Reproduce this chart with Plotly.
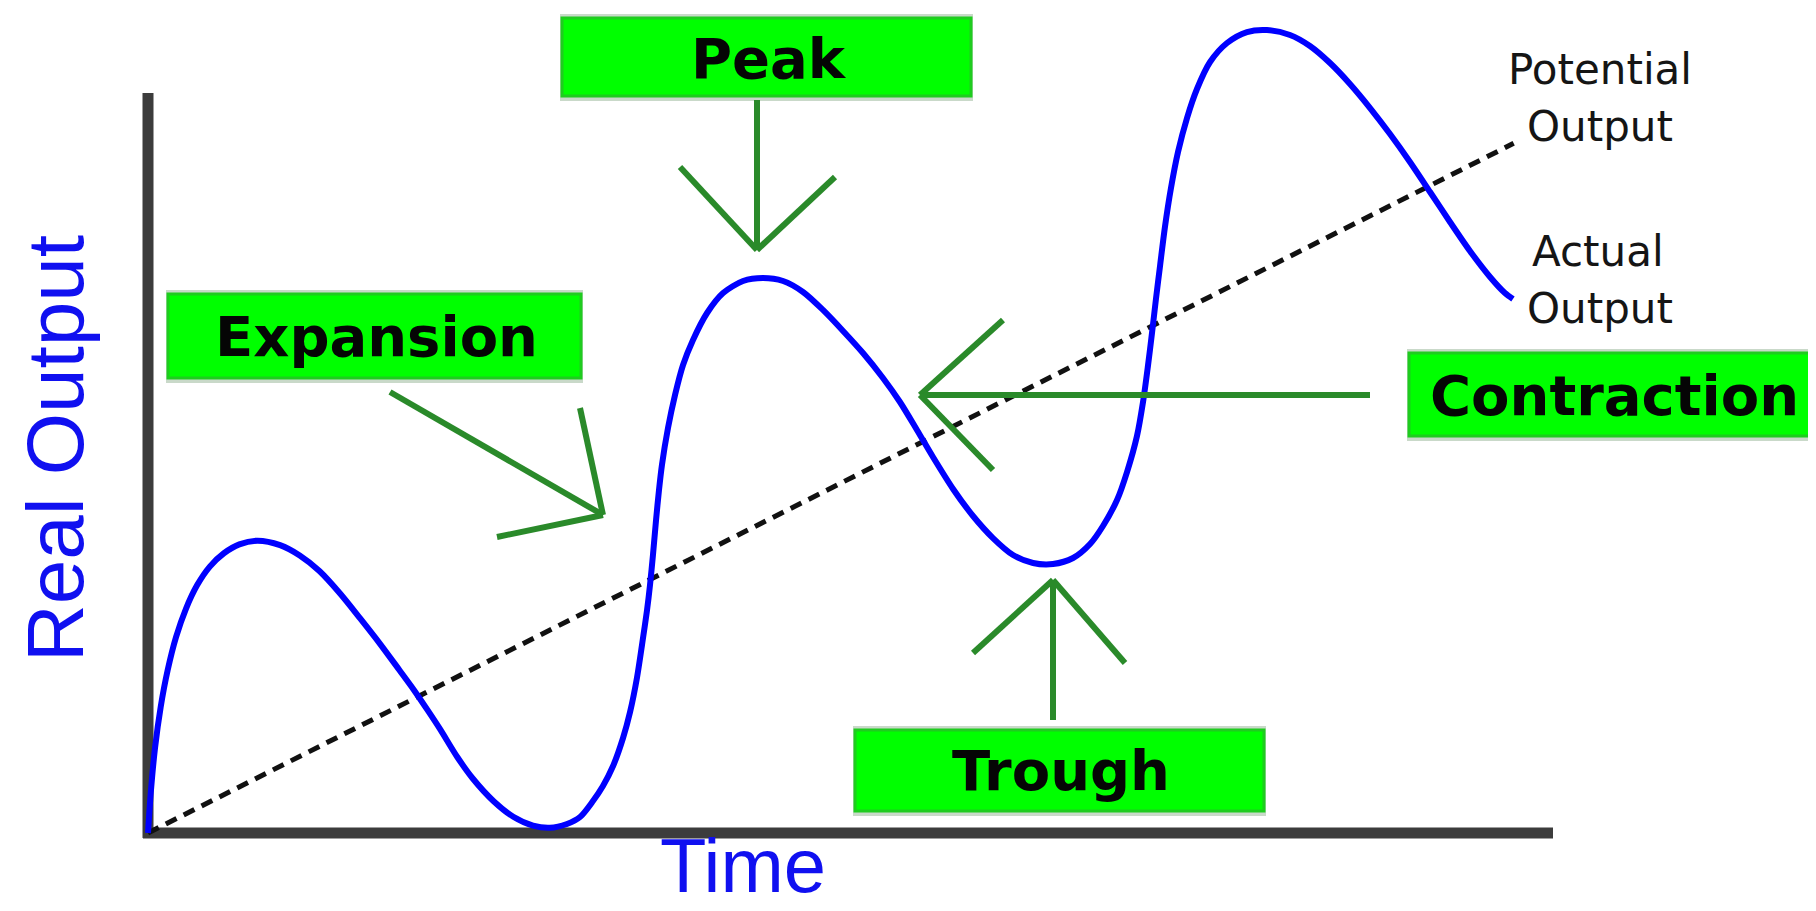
import plotly.graph_objects as go

W, H = 1816, 911

# ---------------- data ----------------
# time runs 0..100 along the drawn x axis, output 0..100 along the drawn y axis
time = [0.0, 0.2, 0.5, 0.9, 1.4, 2.0, 2.7, 3.5, 4.4, 5.4, 6.5, 7.8,
        9.4, 10.8, 12.2, 13.7, 15.1, 16.5, 17.9, 18.9, 19.9, 20.8, 22.0, 23.1, 24.6, 26.0,
        27.4, 28.6,
        29.82, 30.75, 31.67, 32.38, 33.10, 33.81, 34.31, 34.80, 35.16, 35.52, 35.73, 35.94,
        36.16, 36.37, 36.58, 37.01, 37.51, 38.08, 38.79, 39.79, 40.93, 42.35, 43.77,
        45.20, 46.62, 48.04, 49.47, 50.89, 52.31, 53.52, 54.73, 55.87, 57.30, 58.72, 60.14,
        61.57, 62.99, 64.41, 65.84, 67.05, 67.97, 68.97, 69.68, 70.39, 70.82, 71.17, 71.46,
        71.74, 72.03, 72.38, 72.81, 73.31, 73.95, 74.66, 75.59, 76.80, 78.22, 79.64,
        81.28, 82.70, 84.13, 85.55, 86.98, 88.40, 89.82, 91.25, 92.67, 94.09, 95.52, 96.58,
        97.15]
actual = [0.0, 5.5, 11.5, 17.0, 22.0, 26.5, 30.3, 33.5, 36.0, 37.8, 39.0, 39.5,
          38.9, 37.5, 35.4, 32.3, 29.0, 25.6, 22.0, 19.4, 16.6, 14.0, 10.3, 7.4, 4.3, 2.2,
          1.0, 0.7,
          1.22, 2.16, 4.32, 6.35, 9.05, 12.84, 16.35, 20.95, 25.41, 30.14, 33.51, 37.57,
          42.30, 46.35, 49.73, 54.73, 59.19, 63.24, 66.62, 70.27, 72.97, 74.59, 75.00,
          74.59, 73.11, 70.68, 67.84, 64.86, 61.49, 58.24, 54.46, 50.81, 46.49, 42.84, 39.86,
          37.57, 36.49, 36.35, 37.16, 39.05, 41.49, 45.00, 48.78, 53.65, 58.24, 63.11, 67.57,
          72.16, 76.62, 81.89, 87.16, 92.03, 96.62, 100.54, 104.19, 106.76, 108.24, 108.51,
          107.84, 106.35, 104.05, 101.22, 97.97, 94.46, 90.68, 86.62, 82.57, 78.65, 75.14,
          72.97, 72.16]
potential_time = [0.0, 97.2]
potential = [0.0, 93.2]

x_title = "Time"
y_title = "Real Output"
phase_labels = ["Peak", "Expansion", "Contraction", "Trough"]
line_labels = [["Potential", "Output"], ["Actual", "Output"]]

# ---------------- layout helpers ----------------
# The page body adds an 8px margin, so the figure starts 8px right/down of the window corner.
OFF = 8
X0, Y0 = 148, 833          # window-pixel position of the origin
SX, SY = 14.05, 7.4        # pixels per data unit
def PX(x):                 # window pixel -> paper x
    return (x - OFF) / W
def PY(y):                 # window pixel -> paper y
    return 1 - (y - OFF) / H

fig = go.Figure()

# Potential output (dashed)
fig.add_trace(go.Scatter(x=potential_time, y=potential, mode="lines",
                         line=dict(color="#111111", width=5, dash="12px,8px"),
                         hoverinfo="skip"))
# Actual output
fig.add_trace(go.Scatter(x=time, y=actual, mode="lines",
                         line=dict(color="#0000ff", width=6, shape="spline", smoothing=0.8),
                         hoverinfo="skip"))

shapes = []
# axes
shapes.append(dict(type="line", xref="paper", yref="paper", x0=PX(148), y0=PY(93),
                   x1=PX(148), y1=PY(838), line=dict(color="#3c3c3c", width=11), layer="below"))
shapes.append(dict(type="line", xref="paper", yref="paper", x0=PX(143), y0=PY(833),
                   x1=PX(1553), y1=PY(833), line=dict(color="#3c3c3c", width=11), layer="below"))

# green label boxes
boxes = {
    "Peak": (560, 14, 973, 101),
    "Expansion": (166, 290, 583, 383),
    "Contraction": (1407, 349, 1812, 441),
    "Trough": (853, 726, 1266, 816),
}
text_pos = {
    "Peak": (769, 58),
    "Expansion": (376, 336),
    "Contraction": (1614, 395),
    "Trough": (1061, 770),
}
for name in phase_labels:
    x0, y0, x1, y1 = boxes[name]
    shapes.append(dict(type="rect", xref="paper", yref="paper", x0=PX(x0), y0=PY(y0),
                       x1=PX(x1), y1=PY(y1), fillcolor="#c9d9c9", line=dict(width=0),
                       layer="below"))
    shapes.append(dict(type="rect", xref="paper", yref="paper", x0=PX(x0 + 2), y0=PY(y0 + 4),
                       x1=PX(x1 - 2), y1=PY(y1 - 5), fillcolor="#00ff00",
                       line=dict(color="#1fcc1f", width=3), layer="below"))

# green arrows: shaft + two head strokes
arrows = [
    ((757, 100), (757, 250), [(680, 167), (835, 177)]),
    ((390, 392), (603, 515), [(580, 408), (497, 537)]),
    ((1370, 395), (920, 395), [(1003, 320), (993, 470)]),
    ((1053, 720), (1053, 580), [(973, 653), (1125, 663)]),
]
gcol = "#2a8a2a"
for (sx, sy), (tx, ty), heads in arrows:
    shapes.append(dict(type="line", xref="paper", yref="paper", x0=PX(sx), y0=PY(sy),
                       x1=PX(tx), y1=PY(ty), line=dict(color=gcol, width=6)))
    for hx, hy in heads:
        shapes.append(dict(type="line", xref="paper", yref="paper", x0=PX(hx), y0=PY(hy),
                           x1=PX(tx), y1=PY(ty), line=dict(color=gcol, width=6)))

annotations = []
for name in phase_labels:
    cx, cy = text_pos[name]
    annotations.append(dict(text="<b>%s</b>" % name, xref="paper", yref="paper",
                            x=PX(cx), y=PY(cy), xanchor="center", yanchor="middle",
                            showarrow=False,
                            font=dict(family="DejaVu Sans", size=56, color="#050505")))

small_pos = [[(1600, 69), (1600, 127)], [(1598, 252), (1600, 309)]]
for lines, poss in zip(line_labels, small_pos):
    for txt, (cx, cy) in zip(lines, poss):
        annotations.append(dict(text=txt, xref="paper", yref="paper", x=PX(cx), y=PY(cy),
                                xanchor="center", yanchor="middle", showarrow=False,
                                font=dict(family="DejaVu Sans", size=42, color="#151515")))

annotations.append(dict(text=x_title, xref="paper", yref="paper", x=PX(743), y=PY(909),
                        xanchor="center", yanchor="bottom", showarrow=False, borderpad=0,
                        font=dict(family="Liberation Sans", size=76, color="#1010f0")))
annotations.append(dict(text=y_title, xref="paper", yref="paper", x=PX(56), y=PY(449),
                        xanchor="center", yanchor="middle", showarrow=False, textangle=-90,
                        borderpad=0,
                        font=dict(family="Liberation Sans", size=80, color="#1010f0")))

fig.update_layout(
    width=W, height=H,
    margin=dict(l=0, r=0, t=0, b=0),
    paper_bgcolor="white", plot_bgcolor="white",
    showlegend=False,
    shapes=shapes,
    annotations=annotations,
    xaxis=dict(range=[(OFF - X0) / SX, (OFF + W - X0) / SX], visible=False, fixedrange=True),
    yaxis=dict(range=[(Y0 - OFF - H) / SY, (Y0 - OFF) / SY], visible=False, fixedrange=True),
)

fig.write_html("out.html")
